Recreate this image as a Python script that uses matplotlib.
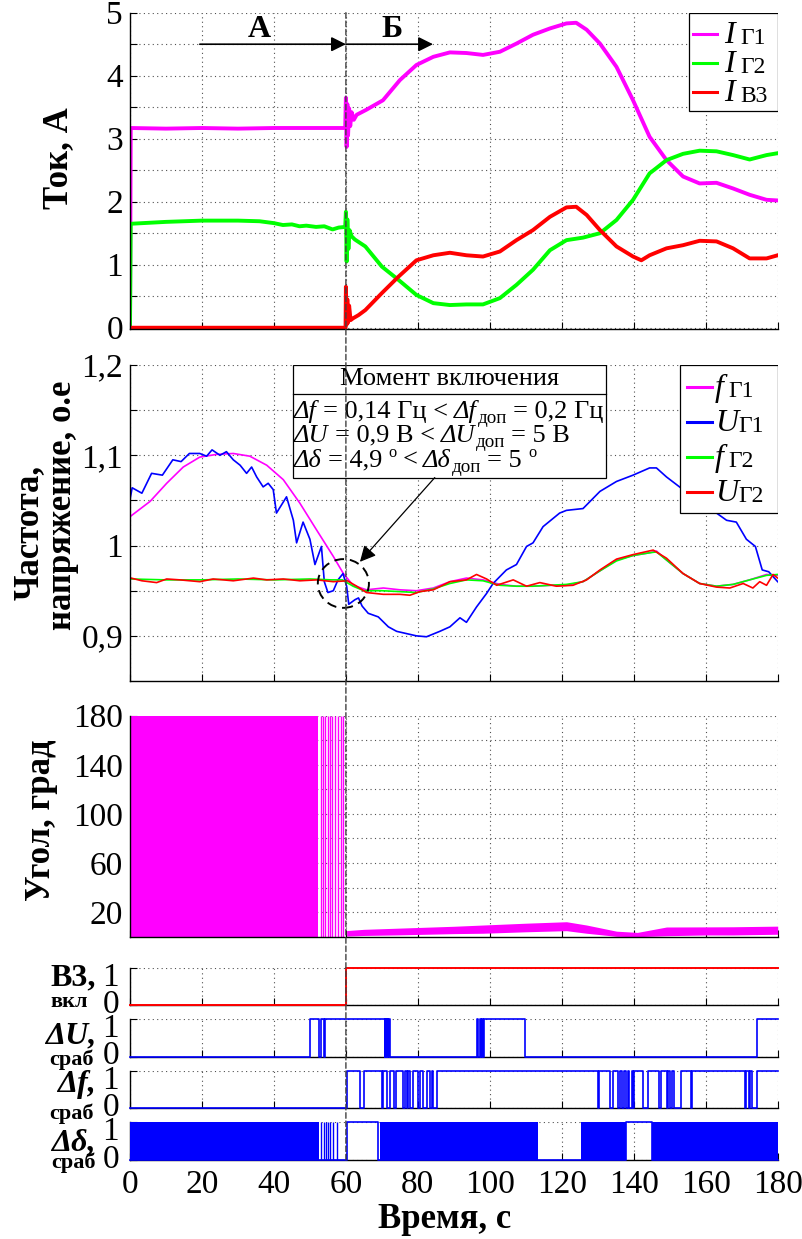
import numpy as np
import matplotlib
matplotlib.use('Agg')
import matplotlib.pyplot as plt
from matplotlib.patches import Rectangle, Ellipse, ConnectionPatch
from matplotlib.transforms import ScaledTranslation

plt.rcParams.update({
    'font.family': 'serif',
    'font.serif': ['Liberation Serif', 'DejaVu Serif'],
    'font.size': 24,
    'axes.linewidth': 1.0,
})

MAGENTA, GREEN, RED, BLUE = '#ff00ff', '#00ff00', '#ff0000', '#0000ff'
GRID = dict(ls=(0, (1, 3)), lw=0.8, color='#505050')

# ── Currents ───────────────────────────────────────
t_i1 = [0, 0.2, 10, 20, 30, 40, 50, 59.8, 60.0, 60.2, 60.4, 60.6, 60.9, 61.2, 61.6, 62.2, 63,
        65.7, 70.3, 75, 79.6, 84.3, 88.9, 93.5, 98.1, 102.8, 107.4, 112, 116.7, 121.3, 124,
        126.9, 130.6, 135.2, 139.8, 144.4, 149.1, 153.7, 158.3, 163, 167.6, 172.2, 176.9, 180]
i_g1 = [0, 3.17, 3.16, 3.17, 3.16, 3.17, 3.17, 3.17, 3.65, 2.87, 3.55, 3.05, 3.48, 3.2, 3.42, 3.3, 3.38,
        3.46, 3.61, 3.93, 4.17, 4.30, 4.37, 4.36, 4.33, 4.38, 4.51, 4.65, 4.75, 4.83, 4.84,
        4.73, 4.51, 4.14, 3.61, 3.03, 2.66, 2.40, 2.29, 2.30, 2.21, 2.11, 2.03, 2.02]

t_i2 = [0, 0.2, 10, 20, 30, 36, 40, 42.5, 45, 47.1, 49, 51.7, 54, 56.3, 58, 59.8, 60.0, 60.2,
        60.4, 60.7, 61.0, 61.6, 62.5, 65.4, 70, 74.6, 79.6, 84.3, 88.9, 93.5, 98.1, 102.8, 107.4,
        112, 116.7, 121.3, 125.9, 130.6, 135.2, 139.8, 144.4, 149.1, 153.7, 158.3, 163, 167.6,
        172.2, 176.9, 180]
i_g2 = [0, 1.65, 1.68, 1.70, 1.70, 1.69, 1.66, 1.63, 1.64, 1.61, 1.62, 1.60, 1.61, 1.56, 1.59, 1.60,
        1.84, 1.05, 1.72, 1.25, 1.55, 1.45, 1.40, 1.29, 0.97, 0.76, 0.52, 0.39, 0.36, 0.37, 0.37,
        0.47, 0.68, 0.92, 1.23, 1.39, 1.43, 1.50, 1.71, 2.03, 2.45, 2.66, 2.76, 2.81, 2.80, 2.74,
        2.67, 2.74, 2.77]

t_i3 = [0, 59.9, 60.0, 60.2, 60.4, 60.6, 60.9, 61.3, 62, 63.5, 65.4, 70, 74.6, 79.6, 84.3, 88.9,
        93.5, 98.1, 102.8, 107.4, 112, 116.7, 121.3, 124, 126.9, 130.6, 135.2, 139.8, 142.1,
        144.4, 149.1, 153.7, 158.3, 163, 167.6, 172.2, 176.9, 180]
i_b3 = [0, 0, 0.65, 0.05, 0.45, 0.08, 0.35, 0.12, 0.15, 0.2, 0.28, 0.55, 0.81, 1.07, 1.15, 1.19,
        1.15, 1.13, 1.21, 1.39, 1.55, 1.76, 1.91, 1.92, 1.79, 1.55, 1.29, 1.13, 1.07,
        1.15, 1.26, 1.31, 1.38, 1.37, 1.26, 1.10, 1.10, 1.15]

# ── Frequency / voltage, p.u. ──────────────────────
t_f1 = [0, 5.6, 10.2, 14.8, 19.4, 24.1, 28.7, 33.3, 38.0, 42.6, 47.2, 51.9, 56.5, 59.3, 62.0,
        65.7, 70.4, 75, 79.6, 84.3, 88.9, 93.5, 98.1, 102.8, 107.4, 112, 116.7, 121.3, 125.9,
        130.6, 135.2, 139.8, 144.4, 146.3, 149.1, 153.7, 158.3, 163, 167.6, 172.2, 176.9, 180]
f_g1 = [1.032, 1.049, 1.069, 1.087, 1.098, 1.101, 1.102, 1.099, 1.089, 1.073, 1.047, 1.017, 0.988,
        0.969, 0.956, 0.951, 0.953, 0.951, 0.950, 0.953, 0.960, 0.964, 0.962, 0.957, 0.955, 0.955,
        0.956, 0.956, 0.960, 0.972, 0.984, 0.989, 0.992, 0.994, 0.984, 0.969, 0.958, 0.955, 0.957,
        0.962, 0.968, 0.967]

t_u1 = [0, 0.6, 3.3, 6.0, 9.0, 11.9, 14.2, 16.5, 19.4, 21.3, 22.8, 25.0, 26.8, 28.7, 30.6, 32.4,
        33.8, 35.2, 37.0, 38.4, 39.8, 40.7, 43.5, 45.4, 46.3, 48.1, 50.0, 51.4, 53.2, 54.0, 55.0,
        56.5, 57.8, 59.2, 60.2, 60.8, 62.5, 63.5, 64.5, 66.2, 69.0, 71.8, 74.1, 79.6, 82.4, 86.1,
        88.9, 91.7, 93.5, 96.3, 99.1, 100.9, 104.6, 107.4, 110.2, 112.0, 114.8, 119.4, 121.3,
        125.9, 130.6, 135.2, 139.8, 144.4, 146.3, 149.1, 153.7, 156.5, 163.0, 165.8, 168.5,
        171.3, 173.8, 175.7, 177.5, 180.0]
u_g1 = [1.051, 1.064, 1.058, 1.080, 1.078, 1.095, 1.093, 1.102, 1.102, 1.099, 1.106, 1.100, 1.104,
        1.095, 1.089, 1.080, 1.087, 1.076, 1.065, 1.069, 1.062, 1.036, 1.054, 1.028, 1.003, 1.026,
        1.007, 0.979, 0.999, 0.960, 0.948, 0.950, 0.962, 0.969, 0.955, 0.935, 0.940, 0.942, 0.933,
        0.925, 0.921, 0.910, 0.905, 0.900, 0.899, 0.905, 0.910, 0.920, 0.915, 0.932, 0.947, 0.958,
        0.973, 0.979, 0.999, 1.003, 1.021, 1.036, 1.039, 1.041, 1.060, 1.071, 1.078, 1.086, 1.086,
        1.076, 1.062, 1.047, 1.036, 1.028, 1.026, 1.007, 0.999, 0.973, 0.971, 0.960]

t_f2 = [0, 10, 20, 30, 40, 50, 56, 59, 62, 65, 70, 75, 79.6, 84.3, 88.9, 93.5, 98.1, 102.8, 107.4,
        112, 116.7, 121.3, 125.9, 130.6, 135.2, 139.8, 144.4, 146.3, 149.1, 153.7, 158.3, 163,
        167.6, 172.2, 176.9, 180]
f_g2 = [0.963, 0.962, 0.962, 0.963, 0.962, 0.963, 0.962, 0.962, 0.955, 0.950, 0.950, 0.949, 0.948,
        0.952, 0.958, 0.962, 0.961, 0.956, 0.955, 0.955, 0.956, 0.957, 0.960, 0.972, 0.983, 0.989,
        0.992, 0.993, 0.984, 0.969, 0.958, 0.955, 0.957, 0.962, 0.967, 0.968]

t_u2 = [0.3, 3.3, 7.4, 10.2, 13.9, 19.4, 23.1, 28.7, 34.3, 38.0, 42.6, 47.2, 51.9, 56.5, 60.4,
        63.0, 65.7, 70.4, 75, 77.8, 80.6, 84.3, 88.9, 93.5, 96.3, 99.1, 101.9, 106.5, 110.2,
        113.9, 118.5, 123.1, 126.9, 130.6, 135.2, 139.8, 145.4, 149.1, 153.7, 158.3, 163,
        166.7, 170.4, 173.1, 175.0, 176.9, 178.7, 180]
u_g2 = [0.964, 0.961, 0.959, 0.963, 0.962, 0.960, 0.963, 0.961, 0.964, 0.962, 0.963, 0.961, 0.962,
        0.960, 0.961, 0.955, 0.948, 0.946, 0.946, 0.945, 0.949, 0.951, 0.960, 0.962, 0.968, 0.963,
        0.956, 0.962, 0.955, 0.959, 0.955, 0.956, 0.962, 0.973, 0.985, 0.990, 0.995, 0.986, 0.969,
        0.958, 0.954, 0.953, 0.958, 0.953, 0.960, 0.956, 0.968, 0.964]

# ── Phase angle ────────────────────────────────────
angle_dense = [0.0, 52.3]                       # swept 0..180 continuously
angle_spikes = [53.0, 53.6, 54.3, 55.0, 55.6, 56.2, 57.0, 57.8, 58.6, 59.3]
t_band = [60.2, 65, 75, 90, 98, 110, 121.3, 126.9, 135.2, 141, 149.1, 160, 167.6, 180]
band_lo = [0.5, 1.0, 1.5, 2.5, 2.8, 4.0, 4.9, 2.8, 0.3, 0.0, 0.8, 1.4, 1.4, 2.0]
band_hi = [5.0, 6.0, 7.0, 8.5, 9.5, 11.0, 12.2, 9.5, 4.5, 3.5, 7.9, 8.0, 8.1, 8.6]

# ── Logic signals (toggle times, s) ────────────────
sw_edges = [60.0]
du_edges = [50.0, 52.5, 53.0, 53.8, 54.3, 70.8, 71.0, 71.3, 71.5, 71.8, 72.0, 72.3,
            96.3, 96.6, 97.2, 97.5, 97.8, 98.1, 98.4, 109.7, 174.3]
df_rise = 60.3
df_drops = [(64.0, 64.9), (70.0, 70.4), (71.3, 72.2), (73.5, 73.8), (75.9, 76.3), (76.9, 77.3),
            (77.8, 78.7), (80.1, 80.6), (81.5, 82.4), (83.4, 83.8), (84.3, 85.3), (130.1, 130.3),
            (133.4, 134.3), (135.7, 136.2), (136.7, 137.4), (137.9, 138.3), (138.8, 139.4),
            (139.8, 140.0), (142.6, 144.0), (147.0, 147.5), (149.3, 149.6), (150.2, 150.5),
            (151.2, 153.0), (155.8, 156.1), (171.0, 171.3), (172.0, 172.3), (172.9, 174.3)]
dd_dense = [(0.0, 52.5), (69.5, 113.4), (125.4, 137.9), (145.0, 180.0)]
dd_spikes = [53.2, 53.8, 54.4, 54.9, 55.5, 56.4, 57.4]
dd_edges = [60.3, 69.0, 137.9, 145.0]

x_ticks = [0, 20, 40, 60, 80, 100, 120, 140, 160, 180]

# switching-moment note: (text, kind, gap in px) — kind: n=normal, i=italic, s=sub, o=superscript
note_rows = [
    [('Δf', 'i', 0), ('= 0,14 Гц <', 'n', 6), ('Δf', 'i', 6), ('доп', 's', 1), ('= 0,2 Гц', 'n', 6)],
    [('ΔU', 'i', 0), ('= 0,9 В <', 'n', 6), ('ΔU', 'i', 6), ('доп', 's', 1), ('= 5 В', 'n', 6)],
    [('Δδ', 'i', 0), ('= 4,9', 'n', 6), ('о', 'o', 6), ('<', 'n', 6), ('Δδ', 'i', 6),
     ('доп', 's', 1), ('= 5', 'n', 6), ('о', 'o', 6)],
]


def step_xy(edges, start=0, t_end=180.0):
    """Turn a list of toggle times into a stair line."""
    xs, ys, v = [0.0], [start], start
    for e in edges:
        xs += [e, e]
        ys += [v, 1 - v]
        v = 1 - v
    xs.append(t_end)
    ys.append(v)
    return xs, ys


def add_axes_px(fig, top, bottom):
    W, H = 803.0, 1239.0
    return fig.add_axes([130 / W, 1 - bottom / H, 647.7 / W, (bottom - top) / H])


def style(ax, yticks, ylabels, pad=5):
    ax.set_xlim(0, 180)
    ax.set_xticks(x_ticks)
    ax.set_yticks(yticks)
    ax.set_yticklabels(ylabels)
    ax.grid(True, **GRID)
    ax.set_axisbelow(True)
    for side in ('top', 'right'):
        ax.spines[side].set_visible(False)
    ax.tick_params(direction='in', length=5, width=0.8, labelsize=24)
    ax.tick_params(axis='y', pad=pad)
    ax.tick_params(axis='x', labelbottom=False, pad=7)


def draw_key(ax, box, rows, line_x, text_x, entries):
    x0, y0, x1, y1 = box
    ax.add_patch(Rectangle((x0, y0), x1 - x0, y1 - y0, transform=ax.transAxes,
                           facecolor='white', edgecolor='black', lw=0.9, zorder=20))
    for yr, (color, letter, sub, gap) in zip(rows, entries):
        ax.plot(line_x, [yr, yr], transform=ax.transAxes, color=color, lw=2.2, zorder=21)
        t = ax.text(text_x, yr - 0.005, letter, transform=ax.transAxes, ha='left', va='center',
                    fontsize=23, style='italic', zorder=21)
        ax.annotate(sub, xy=(1, 0), xycoords=t, xytext=(gap, 1), textcoords='offset pixels',
                    ha='left', va='bottom', fontsize=17, zorder=21)


def write_row(ax, x, y, pieces, size):
    """Lay out one line of mixed italic / sub / superscript pieces."""
    text, kind, _ = pieces[0]
    base = ax.text(x, y, text, fontsize=size, style='italic' if kind == 'i' else 'normal',
                   ha='left', va='baseline', zorder=12)
    prev = base
    for text, kind, gap in pieces[1:]:
        if kind == 's':
            t = ax.annotate(text, xy=(1, 0), xycoords=(prev, base), xytext=(gap, -4),
                            textcoords='offset pixels', fontsize=size * 0.72,
                            ha='left', va='bottom', zorder=12)
        elif kind == 'o':
            t = ax.annotate(text, xy=(1, 1), xycoords=(prev, base), xytext=(gap, 5),
                            textcoords='offset pixels', fontsize=size * 0.62,
                            ha='left', va='top', zorder=12)
        else:
            t = ax.annotate(text, xy=(1, 0), xycoords=(prev, base), xytext=(gap, 0),
                            textcoords='offset pixels', fontsize=size,
                            style='italic' if kind == 'i' else 'normal',
                            ha='left', va='bottom', zorder=12)
        prev = t


fig = plt.figure(figsize=(8.03, 12.39), dpi=100)

# ── Panel 1: currents ──────────────────────────────
ax1 = add_axes_px(fig, 12.7, 329.3)
ax1.plot(t_i1, i_g1, color=MAGENTA, lw=2.8)
ax1.plot(t_i2, i_g2, color=GREEN, lw=2.8)
ax1.plot(t_i3, i_b3, color=RED, lw=2.8)
ax1.set_ylim(-0.025, 5)
style(ax1, np.arange(0, 5.01, 0.5), ['0', '', '1', '', '2', '', '3', '', '4', '', '5'])
arrow = dict(arrowstyle='-|>', color='black', lw=1.2, mutation_scale=22, shrinkA=0, shrinkB=0)
ax1.annotate('', xy=(60, 4.5), xytext=(19.4, 4.5), arrowprops=arrow)
ax1.annotate('', xy=(84.2, 4.5), xytext=(60, 4.5), arrowprops=arrow)
ax1.text(36, 4.73, 'А', ha='center', va='center', fontsize=23, weight='bold')
ax1.text(72.8, 4.73, 'Б', ha='center', va='center', fontsize=23, weight='bold')
draw_key(ax1, (0.863, 0.690, 1.0, 1.0), [0.934, 0.840, 0.750], [0.869, 0.906], 0.918,
         [(MAGENTA, 'I', 'Г1', 5), (GREEN, 'I', 'Г2', 5), (RED, 'I', 'В3', 5)])

# ── Panel 2: frequency and voltage ─────────────────
ax2 = add_axes_px(fig, 365, 681)
ax2.plot(t_f1, f_g1, color=MAGENTA, lw=1.2)
ax2.plot(t_u1, u_g1, color=BLUE, lw=1.2)
ax2.plot(t_f2, f_g2, color=GREEN, lw=1.2)
ax2.plot(t_u2, u_g2, color=RED, lw=1.2)
ax2.set_ylim(0.85, 1.2)
style(ax2, [0.9, 0.95, 1.0, 1.05, 1.1, 1.15, 1.2], ['0,9', '', '1', '', '1,1', '', '1,2'])
draw_key(ax2, (0.849, 0.532, 1.0, 1.0), [0.931, 0.820, 0.709, 0.599], [0.860, 0.898], 0.903,
         [(MAGENTA, 'f', 'Г1', 5), (BLUE, 'U', 'Г1', 0), (GREEN, 'f', 'Г2', 5), (RED, 'U', 'Г2', 0)])

bx0, bx1, by0, by1, by_hdr = 45.3, 132.4, 1.0753, 1.2, 1.168
ax2.add_patch(Rectangle((bx0, by0), bx1 - bx0, by1 - by0, facecolor='white',
                        edgecolor='black', lw=0.9, zorder=10))
ax2.plot([bx0, bx1], [by_hdr, by_hdr], color='black', lw=0.9, zorder=11)
ax2.text((bx0 + bx1) / 2, 1.1845, 'Момент включения', ha='center', va='center',
         fontsize=19, zorder=12)
for yy, pieces in zip([1.1414, 1.1152, 1.0875], note_rows):
    write_row(ax2, bx0 + 0.3, yy, pieces, 19)
ax2.annotate('', xy=(63.9, 0.982), xytext=(84.7, by0),
             arrowprops=dict(arrowstyle='-|>', color='black', lw=0.9, mutation_scale=24,
                             shrinkA=0, shrinkB=0), zorder=12)
ax2.add_patch(Ellipse((59.3, 0.958), 14.2, 0.054, fill=False, ec='black', lw=1.4,
                      ls=(0, (5, 3)), zorder=9))

# ── Panel 3: phase angle ───────────────────────────
ax3 = add_axes_px(fig, 715.7, 936.7)
ax3.fill_between(angle_dense, 0, 180, color=MAGENTA, lw=0)
ax3.vlines(angle_spikes, 0, 180, color=MAGENTA, lw=1.0)
ax3.fill_between(t_band, band_lo, band_hi, color=MAGENTA, lw=0)
ax3.set_ylim(0, 180)
style(ax3, np.arange(20, 181, 20), ['20', '', '60', '', '100', '', '140', '', '180'])

# ── Logic panels ───────────────────────────────────
ax4 = add_axes_px(fig, 968.3, 1005)
ax5 = add_axes_px(fig, 1019.3, 1056.7)
ax6 = add_axes_px(fig, 1071, 1108.3)
ax7 = add_axes_px(fig, 1122.3, 1160)

xs, ys = step_xy(sw_edges)
ax4.plot(xs, ys, color=RED, lw=1.4, clip_on=False, zorder=5)
xs, ys = step_xy(du_edges)
ax5.plot(xs, ys, color=BLUE, lw=1.2, clip_on=False, zorder=5)
df_edges = [df_rise] + [e for pair in df_drops for e in pair]
xs, ys = step_xy(df_edges)
ax6.plot(xs, ys, color=BLUE, lw=1.2, clip_on=False, zorder=5)
for a, b in dd_dense:
    ax7.fill_between([a, b], 0, 1, color=BLUE, lw=0, zorder=4)
ax7.vlines(dd_spikes, 0, 1, color=BLUE, lw=1.0, zorder=4)
xs, ys = step_xy(dd_edges)
ax7.plot(xs, ys, color=BLUE, lw=1.2, clip_on=False, zorder=5)

side_labels = [
    (ax4, 'В3,', 'normal', 1, 'вкл', -61, -20),
    (ax5, 'ΔU,', 'italic', -5, 'сраб', -59, -27),
    (ax6, 'Δf,', 'italic', -2, 'сраб', -59, -29),
    (ax7, 'Δδ,', 'italic', -9, 'сраб', -57, -27),
]
nudge_down = ScaledTranslation(0, -6 / 100, fig.dpi_scale_trans)
nudge_up = ScaledTranslation(0, 4 / 100, fig.dpi_scale_trans)
for ax, main, st, dy, sub, sx, sy in side_labels:
    ax.set_ylim(0, 1)
    style(ax, [0, 1], ['0', '1'], pad=8)
    # pull the 0/1 labels slightly inwards so neighbouring strips don't collide
    lab0, lab1 = ax.get_yticklabels()
    lab0.set_transform(lab0.get_transform() + nudge_up)
    lab1.set_transform(lab1.get_transform() + nudge_down)
    ax.annotate(main, xy=(0, 0.5), xycoords='axes fraction', xytext=(-34, dy),
                textcoords='offset pixels', ha='right', va='baseline', fontsize=23,
                weight='bold', style=st)
    ax.annotate(sub, xy=(0, 0.5), xycoords='axes fraction', xytext=(sx, sy),
                textcoords='offset pixels', ha='center', va='baseline', fontsize=16,
                weight='bold')

ax7.tick_params(axis='x', labelbottom=True)
ax7.set_xticklabels([str(v) for v in x_ticks])

# switching instant across all panels
fig.add_artist(ConnectionPatch(xyA=(60, 5), coordsA=ax1.transData, xyB=(60, 0),
                               coordsB=ax7.transData, color='#404040', lw=1.0,
                               ls=(0, (4, 2)), zorder=30))

# axis titles
fig.text(59 / 803, 1 - 158 / 1239, 'Ток, А', rotation=90, ha='center', va='center',
         fontsize=25, weight='bold')
fig.text(29 / 803, 1 - 532 / 1239, 'Частота,', rotation=90, ha='center', va='center',
         fontsize=25, weight='bold')
fig.text(63 / 803, 1 - 505 / 1239, 'напряжение, о.е', rotation=90, ha='center', va='center',
         fontsize=25, weight='bold')
fig.text(41 / 803, 1 - 820 / 1239, 'Угол, град', rotation=90, ha='center', va='center',
         fontsize=25, weight='bold')
fig.text(445 / 803, 1 - 1228 / 1239, 'Время, с', ha='center', va='baseline',
         fontsize=25, weight='bold')

fig.savefig('out.png', dpi=100)
